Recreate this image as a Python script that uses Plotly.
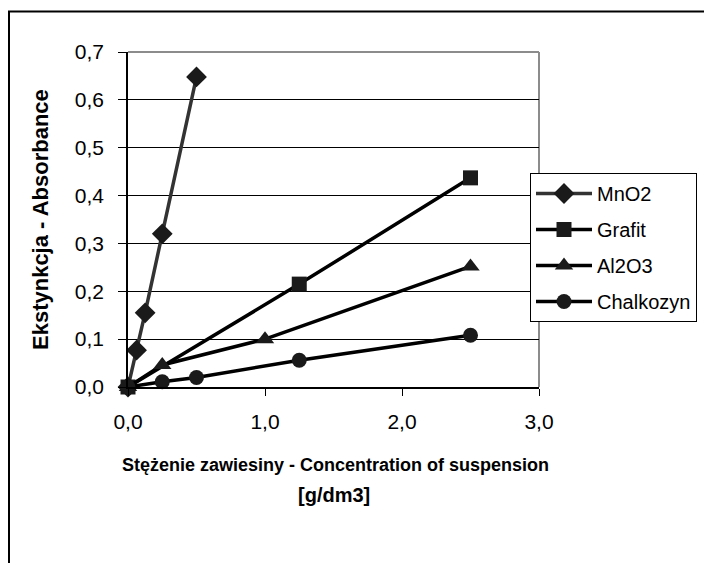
import plotly.graph_objects as go

# ---- data ----
series_names = ["MnO2", "Grafit", "Al2O3", "Chalkozyn"]
mno2_x = [0, 0.0625, 0.125, 0.25, 0.5]
mno2_y = [0, 0.077, 0.155, 0.32, 0.648]
grafit_x = [0, 1.25, 2.5]
grafit_y = [0, 0.215, 0.437]
al2o3_x = [0, 0.25, 1.0, 2.5]
al2o3_y = [0, 0.046, 0.1, 0.252]
chalk_x = [0, 0.25, 0.5, 1.25, 2.5]
chalk_y = [0, 0.011, 0.02, 0.056, 0.108]

x_tickvals = [0, 1, 2, 3]
x_ticktext = ["0,0", "1,0", "2,0", "3,0"]
y_tickvals = [0, 0.1, 0.2, 0.3, 0.4, 0.5, 0.6, 0.7]
y_ticktext = ["0,0", "0,1", "0,2", "0,3", "0,4", "0,5", "0,6", "0,7"]

x_title_1 = "Stężenie zawiesiny - Concentration of suspension"
x_title_2 = "[g/dm3]"
y_title = "Ekstynkcja - Absorbance"

# ---- layout constants (page has an 8px body margin) ----
OFF = 8
W, H = 712 - OFF, 563 - OFF
L, R, T, B = 128 - OFF, 173, 52 - OFF, 176
PW, PH = W - L - R, H - T - B
FONT = "Liberation Sans, Arial, sans-serif"

def px_x(p):
    # page pixel -> paper x
    return (p - OFF - L) / PW

def px_y(p):
    # page pixel -> paper y
    return (H - B - (p - OFF)) / PH

fig = go.Figure()
styles = [
    (mno2_x, mno2_y, "diamond", 16, "#333333"),
    (grafit_x, grafit_y, "square", 15, "#000000"),
    (al2o3_x, al2o3_y, "triangle-up", 16, "#000000"),
    (chalk_x, chalk_y, "circle", 15, "#000000"),
]
for i, (xs, ys, sym, size, lc) in enumerate(styles):
    fig.add_trace(go.Scatter(
        x=xs, y=ys, mode="lines+markers", name=series_names[i],
        legendgroup=series_names[i],
        line=dict(color=lc, width=3.5),
        marker=dict(symbol=sym, size=size, color="#1a1a1a"),
        cliponaxis=False,
    ))

fig.update_layout(
    width=W, height=H,
    margin=dict(l=L, r=R, t=T, b=B, pad=0),
    paper_bgcolor="white", plot_bgcolor="white",
    font=dict(family=FONT, size=20, color="black"),
    showlegend=True,
    legend=dict(
        x=px_x(530), y=px_y(173), xanchor="left", yanchor="top",
        bgcolor="white", bordercolor="black", borderwidth=1,
        font=dict(family=FONT, size=20, color="black"),
        traceorder="grouped", tracegroupgap=7,
        itemwidth=56,
    ),
    xaxis=dict(
        range=[0, 3], tickvals=x_tickvals, ticktext=x_ticktext,
        showgrid=False, zeroline=False,
        showline=True, linecolor="black", linewidth=1.5,
        ticks="outside", ticklen=7, tickcolor="black",
        ticklabelstandoff=8,
        tickfont=dict(family=FONT, size=21),
    ),
    yaxis=dict(
        range=[0, 0.7], tickvals=y_tickvals, ticktext=y_ticktext,
        showgrid=True, gridcolor="black", gridwidth=1,
        zeroline=False,
        showline=True, linecolor="black", linewidth=1.5,
        ticks="outside", ticklen=8, tickcolor="black",
        ticklabelstandoff=10,
        tickfont=dict(family=FONT, size=21),
    ),
    shapes=[
        # plot area top and right border (grey)
        dict(type="line", xref="paper", yref="paper", x0=0, x1=1, y0=1, y1=1,
             line=dict(color="#8c8c8c", width=2), layer="above"),
        dict(type="line", xref="paper", yref="paper", x0=1, x1=1, y0=0, y1=1,
             line=dict(color="#8c8c8c", width=2), layer="below"),
        # chart outer border (extends past the window)
        dict(type="rect", xref="paper", yref="paper",
             x0=px_x(9), x1=px_x(760), y0=px_y(620), y1=px_y(11.5),
             line=dict(color="black", width=2), layer="below"),
    ],
    annotations=[
        dict(text="<b>" + x_title_1 + "</b>", xref="paper", yref="paper",
             x=px_x(335), y=px_y(465), xanchor="center", yanchor="middle",
             showarrow=False, font=dict(family=FONT, size=18)),
        dict(text="<b>" + x_title_2 + "</b>", xref="paper", yref="paper",
             x=px_x(334), y=px_y(495), xanchor="center", yanchor="middle",
             showarrow=False, font=dict(family=FONT, size=20)),
        dict(text="<b>" + y_title + "</b>", xref="paper", yref="paper",
             x=px_x(40), y=px_y(220), xanchor="center", yanchor="middle",
             textangle=-90, showarrow=False, font=dict(family=FONT, size=22)),
    ],
)

fig.write_html("out.html")
